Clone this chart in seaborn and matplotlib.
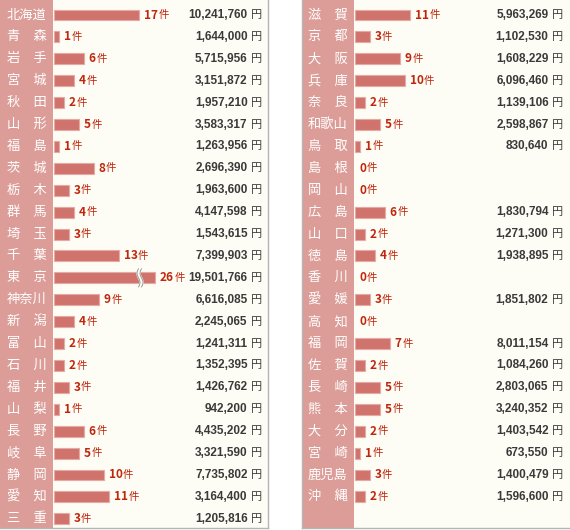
import numpy as np
import pandas as pd
import seaborn as sns
import matplotlib.pyplot as plt

# prefectures, case counts and amounts (yen) - left column
left_names = ['北海道', '青森', '岩手', '宮城', '秋田', '山形', '福島', '茨城', '栃木', '群馬',
              '埼玉', '千葉', '東京', '神奈川', '新潟', '富山', '石川', '福井', '山梨', '長野',
              '岐阜', '静岡', '愛知', '三重']
left_counts = [17, 1, 6, 4, 2, 5, 1, 8, 3, 4, 3, 13, 26, 9, 4, 2, 2, 3, 1, 6, 5, 10, 11, 3]
left_amounts = [10241760, 1644000, 5715956, 3151872, 1957210, 3583317, 1263956, 2696390,
                1963600, 4147598, 1543615, 7399903, 19501766, 6616085, 2245065, 1241311,
                1352395, 1426762, 942200, 4435202, 3321590, 7735802, 3164400, 1205816]

# right column
right_names = ['滋賀', '京都', '大阪', '兵庫', '奈良', '和歌山', '鳥取', '島根', '岡山', '広島',
               '山口', '徳島', '香川', '愛媛', '高知', '福岡', '佐賀', '長崎', '熊本', '大分',
               '宮崎', '鹿児島', '沖縄']
right_counts = [11, 3, 9, 10, 2, 5, 1, 0, 0, 6, 2, 4, 0, 3, 0, 7, 2, 5, 5, 2, 1, 3, 2]
right_amounts = [5963269, 1102530, 1608229, 6096460, 1139106, 2598867, 830640, None, None,
                 1830794, 1271300, 1938895, None, 1851802, None, 8011154, 1084260, 2803065,
                 3240352, 1403542, 673550, 1400479, 1596600]

sns.set_style('white')
plt.rcParams['font.family'] = ['Noto Sans CJK JP', 'DejaVu Sans']

bar_color = '#d0736c'
label_bg = '#dc9d98'
panel_bg = '#fdfcf5'
red = '#c0260c'
edge = '#b5b5b5'
cap = 20.2  # bars longer than this are drawn broken

fig = plt.figure(figsize=(5.7, 5.3), dpi=100)
fig.patch.set_facecolor('white')


def draw_panel(ax, names, counts, amounts, xlim, col_end):
    shown = [min(c, cap) for c in counts]
    df = pd.DataFrame({'name': names, 'count': shown})
    ax.set_facecolor(panel_bg)
    sns.barplot(data=df, x='count', y='name', orient='h', ax=ax, color=bar_color,
                saturation=1, width=0.5, edgecolor='#e6aaa4', linewidth=0.8, zorder=3)
    # zero-count rows get no bar at all
    for p in ax.patches:
        if p.get_width() == 0:
            p.set_visible(False)
    ax.set_xlim(*xlim)
    ax.set_ylim(23.42, -0.685)
    ax.axvspan(xlim[0], col_end, color=label_bg, zorder=1, lw=0)
    ax.set_xticks([])
    ax.set_yticks([])
    ax.set_xlabel('')
    ax.set_ylabel('')
    lab_x = (xlim[0] + col_end) / 2
    for i, (n, c, s, a) in enumerate(zip(names, counts, shown, amounts)):
        txt = '\u3000'.join(n) if len(n) == 2 else n
        ax.text(lab_x, i, txt, color='white', fontsize=9.5, ha='center', va='center', zorder=4)
        num = ax.annotate(str(c), xy=(s, i), xytext=(3.5, 0), textcoords='offset points',
                          ha='left', va='center', color=red, fontsize=8.5,
                          fontweight='bold', zorder=5)
        ax.annotate('件', xy=(1, 0.5), xycoords=num, xytext=(0.3, 0),
                    textcoords='offset points', ha='left', va='center', color=red,
                    fontsize=7.5, zorder=5)
        if c > cap:
            t = np.linspace(-1, 1, 30)
            yy = i + 0.42 * t
            xx = cap - 3.0 + 0.3 * np.sin(np.pi * t)
            ax.plot(xx, yy, color=panel_bg, lw=3.2, zorder=6)
            ax.plot(xx - 0.3, yy, color='#8a8a8a', lw=0.6, zorder=7)
            ax.plot(xx + 0.3, yy, color='#8a8a8a', lw=0.6, zorder=7)
        if a is not None:
            amt = ax.text(38.7, i, f'{a:,}', ha='right', va='center', color='#3a3a3a',
                          fontsize=8.5, fontweight='bold',
                          family=['Liberation Sans Narrow', 'Liberation Sans'], zorder=5)
            ax.annotate('円', xy=(1, 0.5), xycoords=amt, xytext=(2.5, 0),
                        textcoords='offset points', ha='left', va='center',
                        color='#3a3a3a', fontsize=8, zorder=5)
    for sp in ax.spines.values():
        sp.set_color(edge)
        sp.set_linewidth(1)
        sp.set_zorder(8)


ax_l = fig.add_axes([0, 2 / 530, 268 / 570, 528 / 530])
draw_panel(ax_l, left_names, left_counts, left_amounts, (-10.8, 42.8), -0.2)
ax_l.spines['top'].set_visible(False)
ax_l.spines['left'].set_visible(False)

ax_r = fig.add_axes([302 / 570, 2 / 530, 268 / 570, 528 / 530])
draw_panel(ax_r, right_names, right_counts, right_amounts, (-10.6, 43.0), -0.3)
ax_r.spines['top'].set_visible(False)
ax_r.spines['right'].set_visible(False)

plt.savefig('out.png', dpi=100, facecolor='white')
